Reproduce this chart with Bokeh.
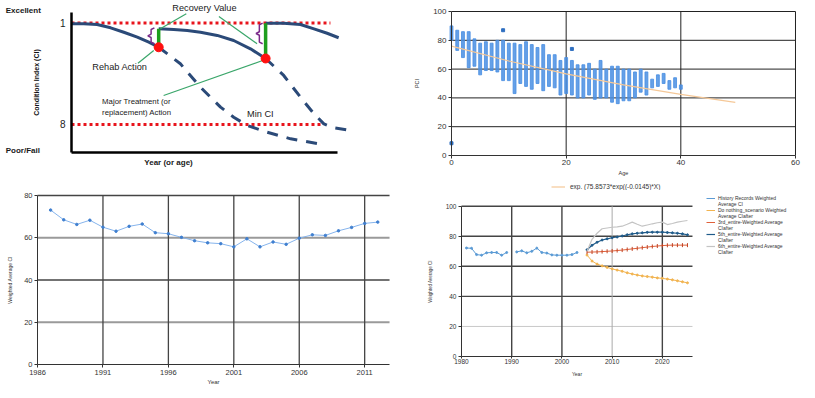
import math
from bokeh.plotting import figure
from bokeh.models import Range1d, FixedTicker, Label, Legend, LegendItem
from bokeh.layouts import row, column
from bokeh.embed import file_html
from bokeh.resources import INLINE

SANS = "Liberation Sans"
nan = float("nan")

# ---------------- Panel 1: schematic (arbitrary units 0-100) ----------------
ci_excellent = 90.0
ci_min = 19.5
limit_top_x = [0, 78.7]
limit_min_x = [0, 75.7]
life1_x = [0, 3.7, 7.8, 11.9, 15.9, 20.0, 23.5, 26.5]
life1_y = [89.5, 89.4, 88.9, 86.6, 83.5, 80.1, 76.6, 73.1]
life2_x = [26.5, 31.1, 35.2, 39.2, 44.3, 49.3, 54.4, 59.0]
life2_y = [85.9, 85.4, 84.7, 83.5, 81.3, 77.8, 72.0, 65.3]
life3_x = [59.0, 64.5, 69.6, 73.7, 77.7, 81.2]
life3_y = [89.8, 89.8, 88.9, 85.9, 82.8, 79.7]
decay1_x = [26.5, 33.1, 39.2, 45.3, 49.3, 53.4, 59.5, 66.6, 76.2]
decay1_y = [73.1, 61.6, 45.3, 31.5, 24.5, 18.8, 14.1, 9.5, 5.6]
decay2_x = [59.0, 64.5, 69.6, 73.7, 76.7, 79.7, 84.8]
decay2_y = [65.3, 53.5, 38.4, 26.9, 19.9, 17.2, 15.3]
action_x = [26.5, 59.0]
action_before = [73.1, 65.3]
action_after = [85.9, 89.8]
brace_x = [24.0, 56.9]
brace_top = [86.6, 89.8]
brace_bottom = [75.5, 75.5]
callout_x0 = [34.9, 44.8, 20.2, 28.0]
callout_y0 = [96.3, 94.4, 62.0, 39.6]
callout_x1 = [27.0, 56.4, 25.0, 58.1]
callout_y1 = [86.0, 75.5, 70.8, 63.9]

# ---------------- Panel 2: PCI vs age ----------------
ages = list(range(0, 41))
pci_hi = [90, 87, 86, 86, 81, 78, 79, 78, 80, 80, 78, 78, 77, 79, 77, 75, 77, 70, 70, 66, 68,
          66, 63, 63, 64, 60, 66, 60, 62, 62, 60, 60, 58, 60, 58, 53, 56, 57, 52, 54, 49]
pci_lo = [80, 73, 68, 61, 62, 56, 59, 59, 58, 52, 52, 43, 50, 48, 46, 50, 45, 48, 47, 42, 43,
          42, 40, 40, 42, 39, 40, 40, 37, 36, 38, 38, 40, 44, 42, 47, 48, 50, 46, 47, 46]
outlier_age = [0, 9, 21]
outlier_pci = [8.5, 87, 74]
trend_age = [0, 10, 20, 30, 40, 49.5]
trend_pci = [75.9, 65.6, 56.7, 49.0, 42.4, 36.9]
trend_label = "exp. (75.8573*exp((-0.0145)*X)"
age_ticks = [0, 20, 40, 60]
pci_ticks = [0, 20, 40, 60, 80, 100]

# ---------------- Panel 3: weighted average CI history ----------------
years3 = list(range(1987, 2013))
ci3 = [73.1, 68.5, 66.3, 68.3, 65.0, 63.1, 65.4, 66.5, 62.4, 61.9, 60.2, 58.6, 57.6,
       57.2, 55.7, 59.5, 55.7, 58.0, 56.9, 59.8, 61.4, 61.1, 63.3, 64.9, 66.8, 67.4]
year3_ticks = [1986, 1991, 1996, 2001, 2006, 2011]
year3_span = (1986, 2012.9)
ci3_ticks = [0, 20, 40, 60, 80]

# ---------------- Panel 4: history + scenarios ----------------
hist_years = list(range(1981, 2004))
hist_ci = [72.2, 72.0, 67.8, 67.4, 69.0, 69.2, 69.2, 67.4, 69.2, nan, 69.6, 70.3, 69.0,
           70.0, 72.1, 69.2, 68.8, 67.6, 67.4, 67.4, 67.4, 67.8, 69.2]
proj_years = list(range(2005, 2026))
do_nothing = [67.5, 63.5, 61.5, 60.3, 59.3, 58.3, 57.5, 56.7, 55.7, 54.9, 54.2, 53.6, 53.2,
              52.8, 52.3, 52.0, 51.5, 51.0, 50.4, 49.7, 49.0]
scen3 = [69.4, 69.5, 69.6, 69.8, 70.0, 70.2, 70.5, 70.8, 71.2, 71.6, 72.0, 72.4, 72.8, 73.2,
         73.5, 73.8, 74.0, 74.1, 74.1, 74.1, 74.1]
scen5 = [71.0, 74.0, 76.0, 77.5, 78.3, 79.0, 79.5, 80.2, 81.0, 81.6, 82.0, 82.3, 82.6, 82.7,
         82.7, 82.7, 82.5, 82.3, 82.0, 81.6, 81.0]
scen6 = [70.0, 78.0, 82.0, 85.0, 85.5, 86.0, 86.3, 86.7, 88.0, 89.4, 88.0, 86.7, 87.5, 88.3,
         89.0, 89.4, 87.8, 88.5, 89.4, 90.0, 90.5]
legend4_lines = [("History Records Weighted", "Average CI"),
                 ("Do nothing_scenario Weighted", "Average CIafter"),
                 ("3rd_entire-Weighted Average", "CIafter"),
                 ("5th_entire-Weighted Average", "CIafter"),
                 ("6th_entire-Weighted Average", "CIafter")]
year4_ticks = [1980, 1990, 2000, 2010, 2020]
year4_span = (1980, 2026)
ci4_ticks = [0, 20, 40, 60, 80, 100]


def base_fig(**kw):
    f = figure(output_backend="svg", toolbar_location=None,
               min_border_left=0, min_border_right=0, min_border_top=0, min_border_bottom=0,
               **kw)
    f.xgrid.visible = False
    f.ygrid.visible = False
    f.outline_line_color = None
    return f


def style_axes(fig, tick_size, label_size, x_origin, y_origin):
    fig.xaxis.fixed_location = y_origin
    fig.yaxis.fixed_location = x_origin
    for ax in fig.xaxis + fig.yaxis:
        ax.axis_line_color = "#333"
        ax.axis_line_width = 1
        ax.major_tick_line_color = "#333"
        ax.minor_tick_line_color = None
        ax.major_tick_out = 3
        ax.major_tick_in = 0
        ax.major_label_text_font = SANS
        ax.major_label_text_font_size = tick_size
        ax.major_label_text_color = "#333"
        ax.axis_label_text_font = SANS
        ax.axis_label_text_font_size = label_size
        ax.axis_label_text_font_style = "normal"
        ax.axis_label_text_color = "#333"
        ax.major_label_standoff = 2


def lab(fig, x, y, text, size, bold=False, align="center"):
    fig.add_layout(Label(x=x, y=y, text=text, text_font=SANS,
                         text_font_size=size, text_font_style="bold" if bold else "normal",
                         text_align=align, text_baseline="middle", text_color="#1a1a1a"))


# ======== Panel 1 ========
p1 = base_fig(width=400, height=190, x_range=Range1d(-21.58, 100),
              y_range=Range1d(-26.39, 105.56))

ya = p1.yaxis[0]
ya.fixed_location = 0
ya.ticker = FixedTicker(ticks=[ci_excellent, ci_min])
ya.major_label_overrides = {ci_excellent: "1", ci_min: "8"}
ya.major_tick_line_color = None
ya.minor_tick_line_color = None
ya.major_tick_out = 0
ya.major_tick_in = 0
ya.axis_line_width = 2.5
ya.axis_line_color = "black"
ya.bounds = (0, 97.2)
ya.major_label_standoff = 6
ya.major_label_text_font_size = "10px"
ya.major_label_text_font = SANS
ya.major_label_text_color = "#222"
ya.axis_label = "Condition Index (CI)"
ya.axis_label_text_font = SANS
ya.axis_label_text_font_style = "bold"
ya.axis_label_text_font_size = "7px"
ya.axis_label_text_color = "#111"
ya.axis_label_standoff = 17

xa = p1.xaxis[0]
xa.fixed_location = 0
xa.ticker = FixedTicker(ticks=[])
xa.major_tick_line_color = None
xa.minor_tick_line_color = None
xa.major_tick_out = 0
xa.major_tick_in = 0
xa.major_label_standoff = 0
xa.axis_line_width = 2.5
xa.axis_line_color = "black"
xa.bounds = (0, 80.9)

red = "#e8141c"
navy = "#2b4a78"
p1.line(limit_top_x, [ci_excellent, ci_excellent], color=red, line_width=3, line_dash="3 3")
p1.line(limit_min_x, [ci_min, ci_min], color=red, line_width=3, line_dash="3 3")
p1.line(decay1_x, decay1_y, color=navy, line_width=3, line_dash="11 9")
p1.line(decay2_x, decay2_y, color=navy, line_width=3, line_dash="11 9")
p1.line(life1_x, life1_y, color=navy, line_width=3)
p1.line(life2_x, life2_y, color=navy, line_width=3)
p1.line(life3_x, life3_y, color=navy, line_width=3)
p1.segment(callout_x0, callout_y0, callout_x1, callout_y1, color="#3aa66a", line_width=1.2)
bxs, bys = [], []
for bx, bt, bb in zip(brace_x, brace_top, brace_bottom):
    mid = (bt + bb) / 2
    bxs.append([bx + 1.2, bx + 0.2, bx + 0.2, bx - 0.8, bx + 0.2, bx + 0.2, bx + 1.2])
    bys.append([bt, bt - 1.2, mid + 1.2, mid, mid - 1.2, bb + 1.2, bb])
p1.multi_line(bxs, bys, color="#7a2a8a", line_width=1.5)
p1.segment(action_x, action_before, action_x, action_after, color="#1e9e1e", line_width=3.5)
p1.scatter(action_x, action_before, size=9, color="#ff1010")

lab(p1, 40.4, 100.5, "Recovery Value", "9.2px")
lab(p1, 14.7, 59.2, "Rehab Action", "9.2px")
lab(p1, 9.3, 35.6, "Major Treatment (or", "7.8px", align="left")
lab(p1, 9.3, 28.0, "replacement) Action", "7.8px", align="left")
lab(p1, 57.4, 26.9, "Min CI", "9.2px")
lab(p1, -20.0, 98.8, "Excellent", "8px", bold=True, align="left")
lab(p1, -20.0, 1.4, "Poor/Fail", "8px", bold=True, align="left")
lab(p1, 29.5, -6.9, "Year (or age)", "8px", bold=True)

# ======== Panel 2 ========
p2 = base_fig(width=415, height=190, x_range=Range1d(-8.895, 63.49),
              y_range=Range1d(-24.31, 107.64))
style_axes(p2, "8px", "5.5px", age_ticks[0], pci_ticks[0])
p2.xaxis.bounds = (0, 60)
p2.yaxis.bounds = (0, 100)
p2.xaxis.ticker = FixedTicker(ticks=age_ticks)
p2.yaxis.ticker = FixedTicker(ticks=pci_ticks)
p2.xaxis.axis_label = "Age"
p2.yaxis.axis_label = "PCI"
p2.yaxis.axis_label_standoff = 10
p2.xaxis.axis_label_standoff = 1
hl2 = pci_ticks[1:]
p2.segment([0] * len(hl2), hl2, [60] * len(hl2), hl2, color="#222", line_width=1)
vl2 = age_ticks[1:]
p2.segment(vl2, [0] * len(vl2), vl2, [100] * len(vl2), color="#222", line_width=1)
p2.vbar(x=ages, bottom=pci_lo, top=pci_hi, width=0.5, color="#4a8fe3", alpha=0.85)
p2.scatter(outlier_age, outlier_pci, marker="square", size=3, color="#2f6fc0")
r_trend = p2.line(trend_age, trend_pci, color="#f5c898", line_width=1.2)
leg2 = Legend(items=[LegendItem(label=trend_label, renderers=[r_trend])],
              orientation="horizontal", location=(151, 0), label_text_font=SANS,
              label_text_font_size="6.5px", label_text_color="#333", glyph_width=14,
              glyph_height=7, label_height=7, padding=0, margin=0, spacing=0,
              border_line_color=None, background_fill_alpha=0)
p2.add_layout(leg2)

# ======== Panel 3 ========
p3 = base_fig(width=405, height=207, x_range=Range1d(1983.17, 2014.12),
              y_range=Range1d(-15.62, 82.37))
style_axes(p3, "7.5px", "5px", year3_span[0], ci3_ticks[0])
p3.xaxis.bounds = year3_span
p3.yaxis.bounds = (0, 80)
p3.xaxis.ticker = FixedTicker(ticks=year3_ticks)
p3.yaxis.ticker = FixedTicker(ticks=ci3_ticks)
p3.xaxis.axis_label = "Year"
p3.xaxis.axis_label_text_font_size = "6px"
p3.yaxis.axis_label = "Weighted Average CI"
p3.yaxis.axis_label_standoff = 8
p3.xaxis.axis_label_standoff = 1
p3.segment([year3_span[0]] * 2, [40, 80], [year3_span[1]] * 2, [40, 80], color="#444", line_width=1.3)
p3.segment([year3_span[0]] * 2, [20, 60], [year3_span[1]] * 2, [20, 60], color="#9a9a9a", line_width=2)
vl3 = year3_ticks[1:]
p3.segment(vl3, [0] * len(vl3), vl3, [80] * len(vl3), color="#444", line_width=1.3)
p3.line(years3, ci3, color="#86b4ec", line_width=1)
p3.scatter(years3, ci3, size=2.5, color="#3f7fd0")

# ======== Panel 4 ========
p4 = base_fig(width=410, height=207, x_range=Range1d(1968.85, 2050.5),
              y_range=Range1d(-27.28, 110.45))
style_axes(p4, "6.5px", "4.5px", year4_span[0], ci4_ticks[0])
p4.xaxis.bounds = year4_span
p4.xaxis.major_tick_out = 2
p4.xaxis.major_label_standoff = 1
p4.yaxis.bounds = (0, 100)
p4.xaxis.ticker = FixedTicker(ticks=year4_ticks)
p4.yaxis.ticker = FixedTicker(ticks=ci4_ticks)
p4.xaxis.axis_label = "Year"
p4.xaxis.axis_label_text_font_size = "5px"
p4.yaxis.axis_label = "Weighted Average CI"
p4.yaxis.axis_label_standoff = 10
p4.xaxis.axis_label_standoff = 3
dark_h = [40, 60, 80, 100]
p4.segment([year4_span[0]] * 4, dark_h, [year4_span[1]] * 4, dark_h, color="#444", line_width=1.4)
p4.segment([year4_span[0]], [20], [year4_span[1]], [20], color="#c8c8c8", line_width=1)
dark_v = [1990, 2000, 2020]
light_v = [2010]
p4.segment(dark_v, [0] * 3, dark_v, [100] * 3, color="#444", line_width=1.4)
p4.segment(light_v, [0], light_v, [100], color="#aaa", line_width=1)

r_hist = p4.line(hist_years, hist_ci, color="#5b9bd5", line_width=1)
p4.scatter(hist_years, hist_ci, size=2, color="#5b9bd5")
r_dn = p4.line(proj_years, do_nothing, color="#f2b450", line_width=1)
p4.scatter(proj_years, do_nothing, size=2, color="#f2b450")
r_s3 = p4.line(proj_years, scen3, color="#e0603a", line_width=1)
p4.scatter(proj_years, scen3, marker="dash", angle=math.pi / 2, size=4, color="#c04020")
r_s5 = p4.line(proj_years, scen5, color="#1f5b8a", line_width=1.2)
p4.scatter(proj_years, scen5, size=2, color="#1f5b8a")
r_s6 = p4.line(proj_years, scen6, color="#c4c4c4", line_width=1.2)

items4 = []
for (first, second), r in zip(legend4_lines, [r_hist, r_dn, r_s3, r_s5, r_s6]):
    items4.append(LegendItem(label=first, renderers=[r]))
    items4.append(LegendItem(label=second, renderers=[]))
leg4 = Legend(items=items4, location=(301, 142), label_text_font=SANS,
              label_text_font_size="5px", label_text_color="#333", glyph_width=9,
              glyph_height=4, label_height=4, label_standoff=3, padding=1, margin=0,
              spacing=0, border_line_color=None, background_fill_alpha=0)
p4.add_layout(leg4)

layout = column(row(p1, p2), row(p3, p4))
open("out.html", "w").write(file_html(layout, INLINE))
